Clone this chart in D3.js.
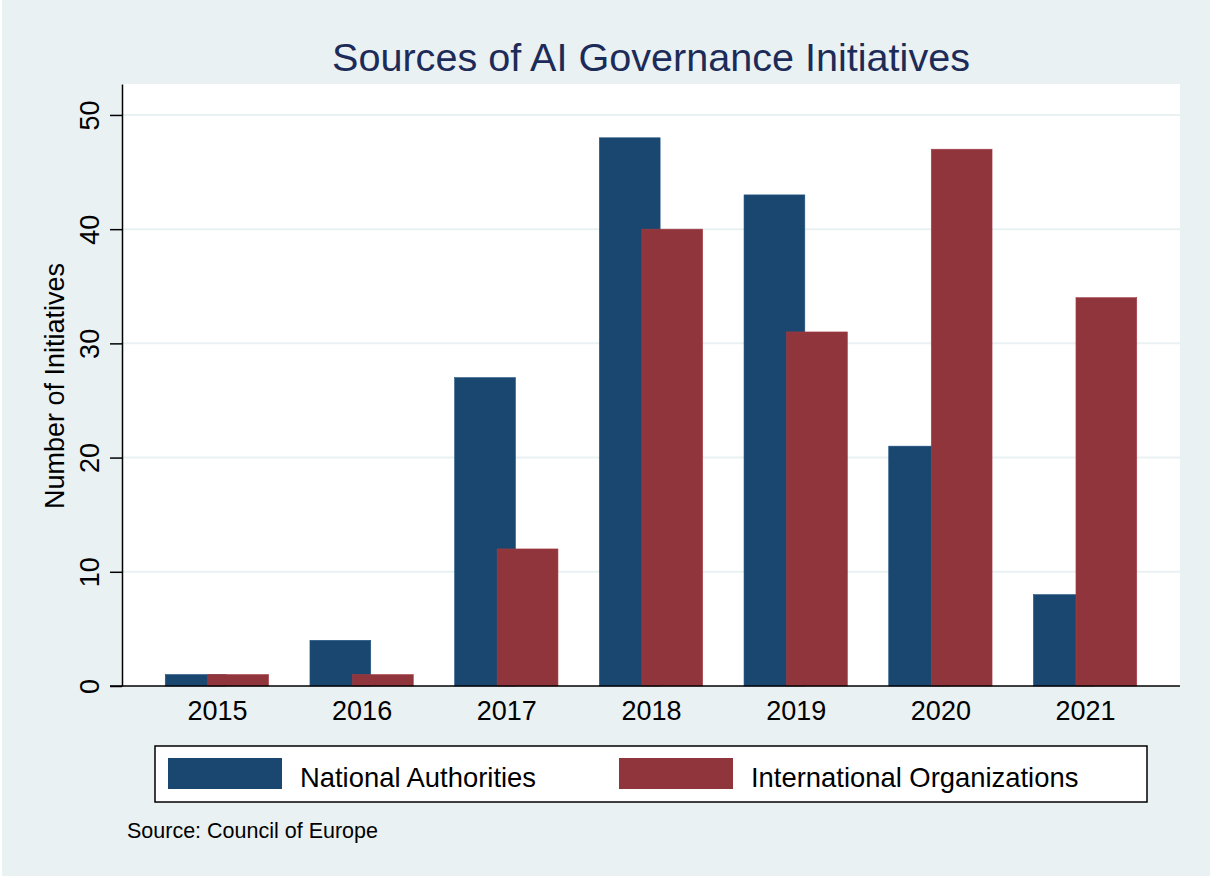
<!DOCTYPE html>
<html>
<head>
<meta charset="utf-8">
<script src="https://cdn.jsdelivr.net/npm/d3@7"></script>
<style>
  body { margin: 0; background: #fff; }
  svg text { font-family: "Liberation Sans", Arial, Helvetica, sans-serif; }
</style>
</head>
<body>
<svg id="chart" width="1212" height="878"></svg>
<script>
const years = ['2015', '2016', '2017', '2018', '2019', '2020', '2021'];
const national = [1, 4, 27, 48, 43, 21, 8];
const international = [1, 1, 12, 40, 31, 47, 34];
const seriesNames = ['National Authorities', 'International Organizations'];
const seriesColors = ['#1a476f', '#90353b'];
const yTicks = [0, 10, 20, 30, 40, 50];

const svg = d3.select("#chart");
const plotLeft = 122, plotRight = 1180, plotTop = 84, plotBottom = 686;

// background
svg.append("rect")
    .attr("x", 2).attr("y", 0)
    .attr("width", 1208).attr("height", 876)
    .attr("fill", "#eaf1f3");

svg.append("rect")
    .attr("x", plotLeft).attr("y", plotTop)
    .attr("width", plotRight - plotLeft).attr("height", plotBottom - plotTop)
    .attr("fill", "#ffffff");

const x = d3.scalePoint()
    .domain(years)
    .range([plotLeft, plotRight])
    .padding(0.656);

const y = d3.scaleLinear()
    .domain([0, 52.71])
    .range([plotBottom, plotTop]);

const step = x.step();
const barW = step * 0.42;
const offset = step * 0.147;

// gridlines
svg.append("g")
    .selectAll("line")
    .data(yTicks.filter(d => d > 0))
    .join("line")
    .attr("x1", plotLeft).attr("x2", plotRight)
    .attr("y1", d => y(d)).attr("y2", d => y(d))
    .attr("stroke", "#eaf1f3")
    .attr("stroke-width", 2);

// bars: national first, international drawn over it
const groups = [national, international];
groups.forEach((vals, i) => {
    svg.append("g")
        .selectAll("rect")
        .data(vals)
        .join("rect")
        .attr("x", (d, j) => x(years[j]) + (i === 0 ? -offset : offset) - barW / 2)
        .attr("width", barW)
        .attr("y", d => y(d))
        .attr("height", d => plotBottom - y(d))
        .attr("fill", seriesColors[i])
        .attr("stroke", d3.color(seriesColors[i]).brighter(0.4))
        .attr("stroke-width", 0.6);
});

// y axis
const yAxis = svg.append("g")
    .attr("transform", `translate(${plotLeft},0)`)
    .call(d3.axisLeft(y).tickValues(yTicks).tickSize(12).tickSizeOuter(0).tickPadding(0));
yAxis.select(".domain").attr("stroke", "#000").attr("stroke-width", 1.5);
yAxis.selectAll(".tick line").attr("stroke", "#000").attr("stroke-width", 1.5);
yAxis.selectAll(".tick text")
    .attr("x", null).attr("dy", null)
    .attr("transform", "translate(-23,0) rotate(-90)")
    .attr("text-anchor", "middle")
    .attr("fill", "#000")
    .style("font-size", "27px");

// x axis
const xAxis = svg.append("g")
    .attr("transform", `translate(0,${plotBottom})`)
    .call(d3.axisBottom(x).tickSize(0).tickPadding(0));
xAxis.select(".domain").remove();
xAxis.selectAll(".tick text")
    .attr("dy", null)
    .attr("y", 34)
    .attr("fill", "#000")
    .style("font-size", "27px");
svg.append("line")
    .attr("x1", plotLeft - 12).attr("x2", plotRight)
    .attr("y1", plotBottom).attr("y2", plotBottom)
    .attr("stroke", "#000").attr("stroke-width", 1.5);

// y axis title
svg.append("text")
    .attr("transform", `translate(64,386) rotate(-90)`)
    .attr("text-anchor", "middle")
    .style("font-size", "27px")
    .attr("fill", "#000")
    .text("Number of Initiatives");

// title
svg.append("text")
    .attr("x", (plotLeft + plotRight) / 2)
    .attr("y", 71)
    .attr("text-anchor", "middle")
    .style("font-size", "39.6px")
    .attr("fill", "#1c2b57")
    .text("Sources of AI Governance Initiatives");

// legend
svg.append("rect")
    .attr("x", 155).attr("y", 746)
    .attr("width", 992).attr("height", 56)
    .attr("fill", "#fff")
    .attr("stroke", "#000").attr("stroke-width", 1.5);

const legendX = [168, 619];
seriesNames.forEach((name, i) => {
    svg.append("rect")
        .attr("x", legendX[i]).attr("y", 758)
        .attr("width", 114).attr("height", 31)
        .attr("fill", seriesColors[i]);
    svg.append("text")
        .attr("x", legendX[i] + 132).attr("y", 787)
        .style("font-size", "27.4px")
        .attr("fill", "#000")
        .text(name);
});

// note
svg.append("text")
    .attr("x", 127).attr("y", 838)
    .style("font-size", "21.5px")
    .attr("fill", "#000")
    .text("Source: Council of Europe");
</script>
</body>
</html>
